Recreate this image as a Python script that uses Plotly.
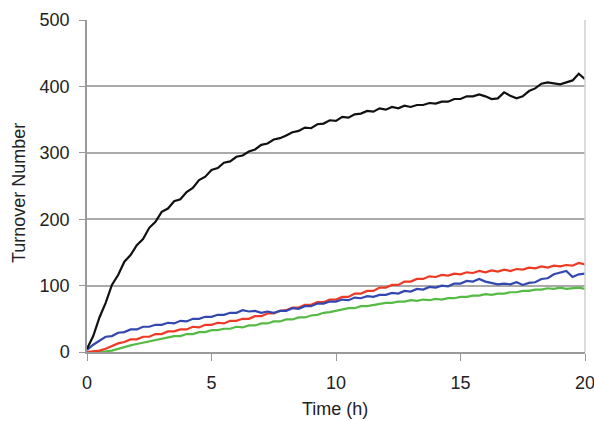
import plotly.graph_objects as go

# Sampling grid (hours), 0.25 h steps from 0 to 20
TIME_H = [i * 0.25 for i in range(81)]

BLACK = [5, 24, 52, 74, 101, 116, 136, 146, 161, 170,
         187, 196, 211, 216, 227, 230, 241, 247, 259, 264,
         274, 277, 285, 287, 294, 296, 302, 305, 312, 314,
         320, 322, 326, 331, 333, 338, 337, 343, 344, 349,
         348, 354, 353, 358, 359, 363, 362, 367, 365, 369,
         367, 371, 369, 372, 372, 375, 374, 377, 377, 381,
         381, 385, 385, 388, 385, 381, 382, 391, 386, 382,
         385, 393, 397, 404, 406, 405, 403, 406, 409, 419,
         411]

BLUE = [3, 11, 17, 23, 24, 29, 30, 34, 34, 38,
        38, 41, 41, 44, 43, 47, 46, 50, 50, 53,
        53, 56, 56, 59, 59, 63, 61, 62, 59, 61,
        59, 62, 62, 66, 65, 69, 69, 73, 73, 76,
        76, 79, 78, 82, 81, 84, 83, 86, 86, 89,
        88, 92, 91, 95, 94, 98, 97, 100, 99, 103,
        103, 107, 106, 110, 106, 104, 102, 103, 102, 105,
        101, 104, 105, 110, 111, 117, 120, 122, 113, 117,
        118]

RED = [0, 1, 2, 5, 9, 13, 15, 19, 19, 23,
       23, 27, 27, 31, 31, 34, 34, 38, 37, 41,
       41, 44, 43, 47, 47, 50, 50, 54, 54, 58,
       58, 62, 63, 67, 67, 71, 71, 75, 75, 79,
       79, 83, 83, 88, 88, 92, 92, 97, 97, 101,
       101, 106, 106, 110, 110, 114, 113, 116, 115, 118,
       117, 120, 119, 122, 120, 123, 121, 124, 122, 125,
       124, 127, 126, 129, 127, 130, 129, 131, 130, 134,
       132]

GREEN = [0, 0, 0, 1, 2, 5, 8, 10, 12, 14,
         16, 18, 20, 21, 24, 24, 27, 27, 30, 30,
         33, 33, 35, 35, 38, 37, 40, 40, 43, 43,
         46, 46, 49, 49, 52, 52, 55, 56, 59, 60,
         62, 63, 66, 66, 69, 69, 71, 72, 74, 74,
         76, 76, 78, 77, 79, 78, 80, 79, 81, 81,
         83, 83, 85, 85, 87, 86, 88, 88, 90, 90,
         92, 92, 94, 94, 96, 95, 97, 95, 96, 97,
         95]

X_TICKS = [0, 5, 10, 15, 20]
Y_TICKS = [0, 100, 200, 300, 400, 500]

FONT = "Liberation Sans, Arial, sans-serif"
TXT = "#222222"
FS = 18

fig = go.Figure()
for vals, col in [(GREEN, "#55BB44"), (RED, "#EE3A24"), (BLUE, "#3347B0"), (BLACK, "#111111")]:
    fig.add_trace(go.Scatter(x=TIME_H, y=vals, mode="lines",
                             line=dict(color=col, width=2.2), showlegend=False,
                             hoverinfo="skip"))

fig.update_layout(
    width=594, height=421,
    margin=dict(l=87, r=9, t=20, b=69),
    paper_bgcolor="white", plot_bgcolor="white",
    font=dict(family=FONT, size=FS, color=TXT),
    xaxis=dict(range=[0, 20], tickvals=X_TICKS, ticks="outside", ticklen=7,
               tickcolor="#999999", showline=True, linecolor="#999999", linewidth=1.5,
               showgrid=False, zeroline=False, ticklabelstandoff=7,
               ticklabeloverflow="allow", automargin=False,
               tickfont=dict(size=FS, color=TXT)),
    yaxis=dict(range=[0, 500], tickvals=Y_TICKS, ticks="outside", ticklen=6,
               tickcolor="#999999", showline=True, linecolor="#999999", linewidth=1.5,
               showgrid=True, gridcolor="#AAAAAA", gridwidth=1.5, zeroline=False,
               ticklabelstandoff=6, ticklabeloverflow="allow", automargin=False,
               tickfont=dict(size=FS, color=TXT)),
    shapes=[dict(type="line", xref="paper", yref="paper", x0=1, x1=1, y0=0, y1=1,
                 line=dict(color="#D0D0D0", width=1.5))],
    annotations=[
        dict(text="Time (h)", xref="paper", yref="paper", x=0.4985, y=-0.173,
             xanchor="center", yanchor="middle", showarrow=False,
             font=dict(size=FS, color=TXT)),
        dict(text="Turnover Number", xref="paper", yref="paper", x=-0.135, y=0.478,
             xanchor="center", yanchor="middle", textangle=-90, showarrow=False,
             font=dict(size=FS, color=TXT)),
    ],
)

fig.write_html(
    "out.html",
    config={"displayModeBar": False},
    post_script="document.body.style.margin='0';document.body.style.overflow='hidden';",
)
